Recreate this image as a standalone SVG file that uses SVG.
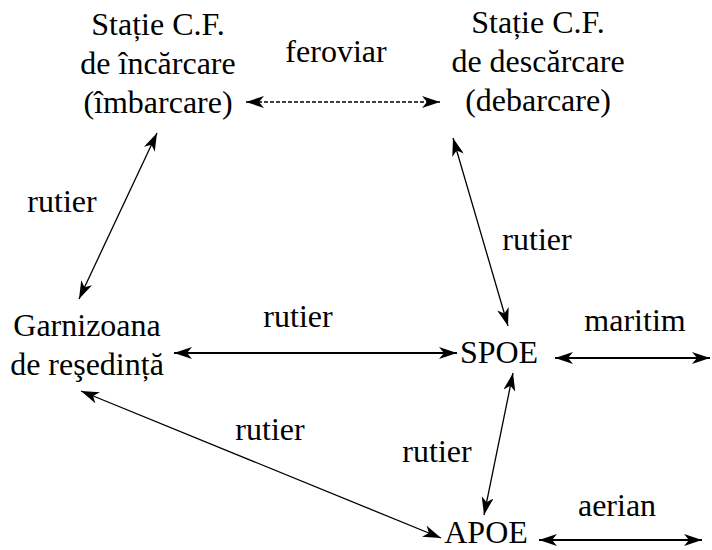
<svg xmlns="http://www.w3.org/2000/svg" width="712" height="550" viewBox="0 0 712 550">
<style>
text{font-family:"Liberation Serif","Times New Roman",Times,serif;font-size:32px;fill:#000}
.c{text-anchor:middle}
.ln{stroke:#000;fill:none;stroke-width:1.3}
.thick{stroke-width:2}
.dash{stroke-dasharray:4 2}
</style>
<defs>
<marker id="ah" markerUnits="userSpaceOnUse" markerWidth="18" markerHeight="12" refX="18" refY="6" orient="auto-start-reverse" viewBox="0 0 18 12">
<path d="M0,0 L18,6 L0,12 L5,6 z" fill="#000"/>
</marker>
</defs>
<rect width="712" height="550" fill="#fff"/>
<g id="connectors">
<line class="ln dash" x1="246" y1="102" x2="440" y2="102" marker-start="url(#ah)" marker-end="url(#ah)"/>
<line class="ln" x1="157" y1="133" x2="79" y2="299" marker-start="url(#ah)" marker-end="url(#ah)"/>
<line class="ln" x1="453" y1="138" x2="508" y2="326" marker-start="url(#ah)" marker-end="url(#ah)"/>
<line class="ln thick" x1="174" y1="353" x2="457" y2="353" marker-start="url(#ah)" marker-end="url(#ah)"/>
<line class="ln thick" x1="555" y1="358" x2="710" y2="358" marker-start="url(#ah)" marker-end="url(#ah)"/>
<line class="ln" x1="513" y1="373" x2="484" y2="515" marker-start="url(#ah)" marker-end="url(#ah)"/>
<line class="ln" x1="81" y1="391" x2="441" y2="538" marker-start="url(#ah)" marker-end="url(#ah)"/>
<line class="ln thick" x1="539" y1="540" x2="702" y2="540" marker-start="url(#ah)" marker-end="url(#ah)"/>
<text x="336" y="62" class="c">feroviar</text>
<text x="62" y="212" class="c">rutier</text>
<text x="537" y="250" class="c">rutier</text>
<text x="298" y="327" class="c">rutier</text>
<text x="635" y="331" class="c">maritim</text>
<text x="270" y="440" class="c">rutier</text>
<text x="437" y="462" class="c">rutier</text>
<text x="617" y="516" class="c">aerian</text>
</g>
<g id="statie-incarcare">
<text x="158" y="35" class="c">Stație C.F.</text>
<text x="158" y="74" class="c">de încărcare</text>
<text x="158" y="113" class="c">(îmbarcare)</text>
</g>
<g id="statie-descarcare">
<text x="538" y="33" class="c">Stație C.F.</text>
<text x="538" y="72" class="c">de descărcare</text>
<text x="538" y="111" class="c">(debarcare)</text>
</g>
<g id="garnizoana">
<text x="87" y="336" class="c">Garnizoana</text>
<text x="87" y="375" class="c">de reşedință</text>
</g>
<g id="spoe">
<text x="499" y="363" class="c">SPOE</text>
</g>
<g id="apoe">
<text x="486" y="543" class="c">APOE</text>
</g>
</svg>
